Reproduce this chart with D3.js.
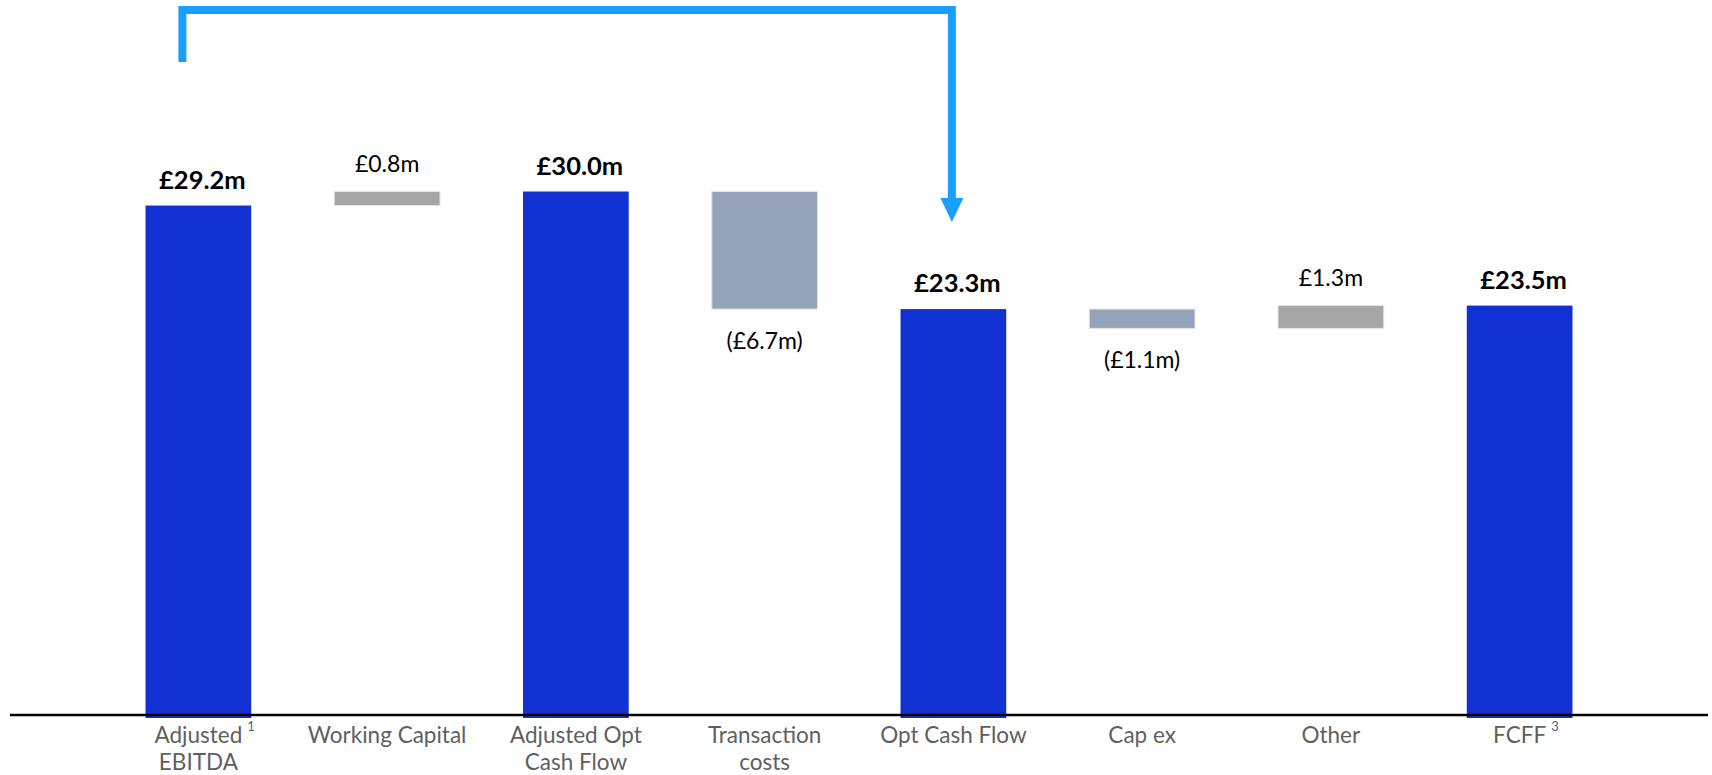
<!DOCTYPE html>
<html>
<head>
<meta charset="utf-8">
<script src="https://cdn.jsdelivr.net/npm/d3@7"></script>
<style>
  html, body { margin: 0; padding: 0; background: #ffffff; }
  svg { display: block; }
  text { font-family: Lato, "Open Sans", "DejaVu Sans", sans-serif; }
</style>
</head>
<body>
<svg id="chart" width="1712" height="775"></svg>
<script>
// Cash flow bridge, £m
const categories = ["Adjusted EBITDA", "Working Capital", "Adjusted Opt Cash Flow", "Transaction costs",
                    "Opt Cash Flow", "Cap ex", "Other", "FCFF"];
const categoryLines = [["Adjusted", "EBITDA"], ["Working Capital"], ["Adjusted Opt", "Cash Flow"],
                       ["Transaction", "costs"], ["Opt Cash Flow"], ["Cap ex"], ["Other"], ["FCFF"]];
const footnotes = ["1", "", "", "", "", "", "", "3"];
const values = [29.2, 0.8, 30.0, -6.7, 23.3, -1.1, 1.3, 23.5];
const kinds = ["total", "delta", "total", "delta", "total", "delta", "delta", "total"];
const valueLabels = ["£29.2m", "£0.8m", "£30.0m", "(£6.7m)", "£23.3m", "(£1.1m)", "£1.3m", "£23.5m"];

const colors = { total: "#1231d2", up: "#a6a6a6", down: "#94a3b8", arrow: "#19a0ff", axis: "#000000", cat: "#5f5f5f" };

// running waterfall: totals stand on zero, deltas float from the previous level
let level = 0;
const bars = values.map((v, i) => {
  let y0, y1;
  if (kinds[i] === "total") { y0 = 0; y1 = v; level = v; }
  else { y0 = level; y1 = level + v; level = y1; }
  return { cat: categories[i], lines: categoryLines[i], note: footnotes[i], value: v, kind: kinds[i],
           label: valueLabels[i], lo: Math.min(y0, y1), hi: Math.max(y0, y1) };
});

const svg = d3.select("#chart");
const baseY = 718;

const x = d3.scaleBand().domain(categories).range([104, 1614]).paddingInner(0.44).paddingOuter(0.22);
const y = d3.scaleLinear().domain([0, 30]).range([baseY, 191.5]);
const bw = x.bandwidth();

const fillFor = d => d.kind === "total" ? colors.total : (d.value >= 0 ? colors.up : colors.down);

// bars
svg.append("g").selectAll("rect").data(bars).join("rect")
  .attr("x", d => x(d.cat))
  .attr("width", bw)
  .attr("y", d => y(d.hi))
  .attr("height", d => y(d.lo) - y(d.hi))
  .attr("fill", fillFor)
  .attr("stroke", d => d.kind === "total" ? "none" : "#e4e4e4")
  .attr("stroke-width", 1);

// value labels
svg.append("g").selectAll("text").data(bars).join("text")
  .attr("x", d => x(d.cat) + bw / 2 + (d.kind === "total" ? 4 : 0))
  .attr("y", d => d.kind === "total" ? y(d.hi) - 17 : (d.value >= 0 ? y(d.hi) - 20 : y(d.lo) + 40))
  .attr("text-anchor", "middle")
  .attr("font-size", d => d.kind === "total" ? 25.5 : 23)
  .attr("font-weight", d => d.kind === "total" ? 700 : 400)
  .attr("fill", "#000")
  .text(d => d.label);

// category axis
const axisG = svg.append("g").attr("transform", `translate(0,${baseY})`)
  .call(d3.axisBottom(x).tickSize(0).tickFormat(""));
axisG.select(".domain").remove();

const catG = svg.append("g");
bars.forEach(d => {
  const cx = x(d.cat) + bw / 2;
  const t = catG.append("text")
    .attr("x", cx).attr("y", 743)
    .attr("text-anchor", "middle")
    .attr("font-size", 22.5)
    .attr("fill", colors.cat);
  d.lines.forEach((ln, k) => {
    t.append("tspan").attr("x", cx).attr("dy", k === 0 ? 0 : 26.5).text(ln);
  });
  if (d.note) {
    const first = t.select("tspan").node();
    const w = first.getComputedTextLength();
    catG.append("text")
      .attr("x", cx + w / 2 + 5).attr("y", 731)
      .attr("font-size", 13)
      .attr("fill", colors.cat)
      .text(d.note);
  }
});

// baseline rule, drawn over the bar feet
svg.append("line")
  .attr("x1", 10).attr("x2", 1708)
  .attr("y1", 715).attr("y2", 715)
  .attr("stroke", colors.axis).attr("stroke-width", 2.5);

// bracket arrow from Adjusted EBITDA to Opt Cash Flow
const ax0 = x(categories[0]) + bw / 2 - 16;
const ax1 = x(categories[4]) + bw / 2 - 1.5;
const topY = 10;
const tipY = y(values[4]) - 87;
const headH = 24, headW = 23;
svg.append("path")
  .attr("d", `M${ax0},62 V${topY} H${ax1} V${tipY - headH + 1}`)
  .attr("fill", "none")
  .attr("stroke", colors.arrow)
  .attr("stroke-width", 8)
  .attr("stroke-linejoin", "miter");
svg.append("path")
  .attr("d", `M${ax1 - headW / 2},${tipY - headH} L${ax1 + headW / 2},${tipY - headH} L${ax1},${tipY} Z`)
  .attr("fill", colors.arrow);
</script>
</body>
</html>
